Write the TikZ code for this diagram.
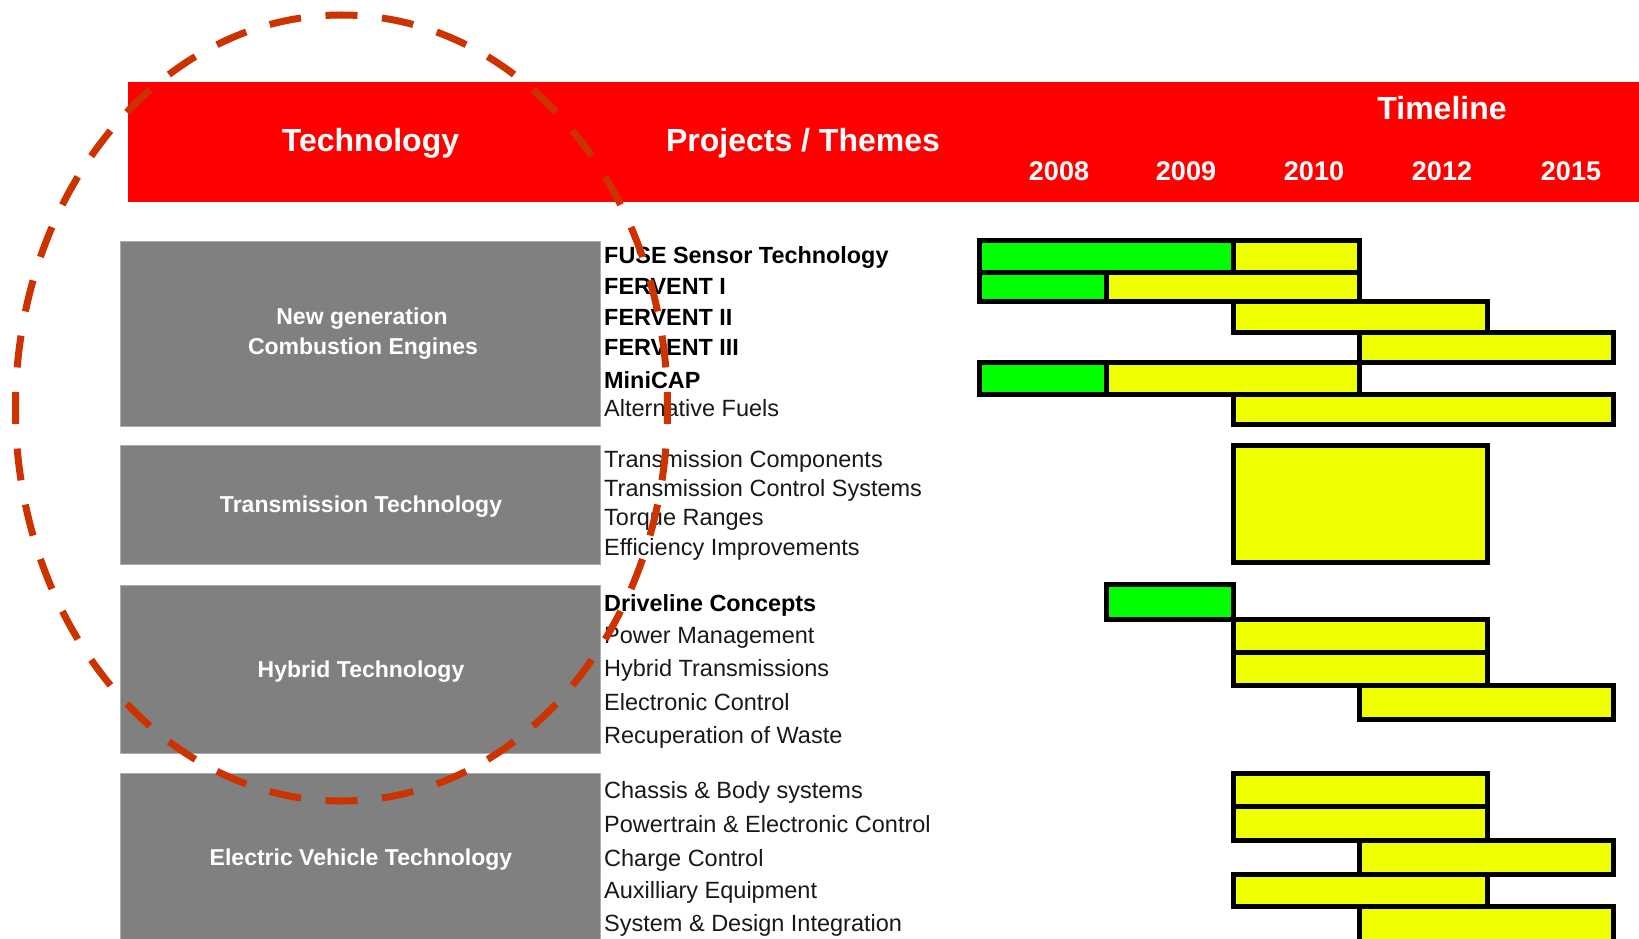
\documentclass[tikz,border=0pt]{standalone}
\usepackage{fontspec}
\setmainfont{Liberation Sans}
\definecolor{hdrred}{RGB}{255,0,0}
\definecolor{techgray}{RGB}{128,128,128}
\definecolor{bargreen}{RGB}{0,255,0}
\definecolor{baryellow}{RGB}{238,255,0}
\definecolor{ringred}{RGB}{204,51,0}
\tikzset{
  hdrtxt/.style={text=white, font=\fontsize{32}{38}\selectfont\bfseries, inner sep=0pt, anchor=base},
  yeartxt/.style={text=white, font=\fontsize{27}{32}\selectfont\bfseries, inner sep=0pt, anchor=base},
  techtxt/.style={text=white, font=\fontsize{23}{28}\selectfont\bfseries, inner sep=0pt, anchor=base},
  projb/.style={text=black, font=\fontsize{23.4}{28}\selectfont\bfseries, inner sep=0pt, anchor=base west},
  proj/.style={text=black!90, font=\fontsize{23.5}{28}\selectfont, inner sep=0pt, anchor=base west},
  techbox/.style={rectangle, fill=techgray, draw=gray!65, line width=1pt, inner sep=0pt, anchor=north west},
  hdrbox/.style={rectangle, fill=hdrred, draw=none, inner sep=0pt, anchor=north west},
  bar/.style={draw=black, line width=5pt, line join=miter},
  gbar/.style={bar, fill=bargreen},
  ybar/.style={bar, fill=baryellow},
  dashring/.style={draw=ringred, line width=7pt, dash pattern=on 32pt off 24.6pt, dash phase=16pt}
}
\begin{document}
\begin{tikzpicture}[x=1pt, y=-1pt]
\clip (0,0) rectangle (1639,939);
\fill[white] (0,0) rectangle (1639,939);

% header
\node[hdrbox, minimum width=1511pt, minimum height=120.5pt] (hdr) at (128,81.5) {};
\node[hdrtxt] (hTech) at (370.5,152) {Technology};
\node[hdrtxt] (hProj) at (803,152) {Projects / Themes};
\node[hdrtxt] (hTime) at (1442,120) {Timeline};
\node[yeartxt] (y2008) at (1059,180) {2008};
\node[yeartxt] (y2009) at (1186,180) {2009};
\node[yeartxt] (y2010) at (1314,180) {2010};
\node[yeartxt] (y2012) at (1442,180) {2012};
\node[yeartxt] (y2015) at (1571,180) {2015};

% technology boxes
\node[techbox, minimum width=480pt, minimum height=185pt] (boxNG) at (120,240.7) {};
\node[techbox, minimum width=480pt, minimum height=119pt] (boxTr) at (120,445) {};
\node[techbox, minimum width=480pt, minimum height=168pt] (boxHy) at (120,585) {};
\node[techbox, minimum width=480pt, minimum height=180pt] (boxEV) at (120,773) {};

\node[techtxt] (tNG1) at (362,324) {New generation};
\node[techtxt] (tNG2) at (363,354) {Combustion Engines};
\node[techtxt] (tTr) at (361,512) {Transmission Technology};
\node[techtxt] (tHy) at (361,677) {Hybrid Technology};
\node[techtxt] (tEV) at (361,865) {Electric Vehicle Technology};

% projects
\node[projb] (p1) at (604,263) {FUSE Sensor Technology};
\node[projb] (p2) at (604,294) {FERVENT I};
\node[projb] (p3) at (604,325) {FERVENT II};
\node[projb] (p4) at (604,355) {FERVENT III};
\node[projb] (p5) at (604,388) {MiniCAP};
\node[proj] (p6) at (604,416.5) {Alternative Fuels};
\node[proj] (p7) at (604,467) {Transmission Components};
\node[proj] (p8) at (604,496.5) {Transmission Control Systems};
\node[proj] (p9) at (604,525) {Torque Ranges};
\node[proj] (p10) at (604,555) {Efficiency Improvements};
\node[projb] (p11) at (604,611.5) {Driveline Concepts};
\node[proj] (p12) at (604,643) {Power Management};
\node[proj] (p13) at (604,676.5) {Hybrid Transmissions};
\node[proj] (p14) at (604,710) {Electronic Control};
\node[proj] (p15) at (604,743) {Recuperation of Waste};
\node[proj] (p16) at (604,798) {Chassis \& Body systems};
\node[proj] (p17) at (604,832.5) {Powertrain \& Electronic Control};
\node[proj] (p18) at (604,866) {Charge Control};
\node[proj] (p19) at (604,898) {Auxilliary Equipment};
\node[proj] (p20) at (604,931.5) {System \& Design Integration};

% timeline bars
\draw[gbar] (979.5,240.5) rectangle (1233,272);
\draw[ybar] (1233,240.5) rectangle (1359.5,272);
\draw[gbar] (979.5,272) rectangle (1106,301.5);
\draw[ybar] (1106,272) rectangle (1359.5,301.5);
\draw[ybar] (1233,301.5) rectangle (1487,332.5);
\draw[ybar] (1359.5,332.5) rectangle (1613,362.5);
\draw[gbar] (979.5,362.5) rectangle (1106,394.5);
\draw[ybar] (1106,362.5) rectangle (1359.5,394.5);
\draw[ybar] (1233,394.5) rectangle (1613,424.5);

\draw[ybar] (1233,445.5) rectangle (1487,562.5);

\draw[gbar] (1106,584.5) rectangle (1233,619.5);
\draw[ybar] (1233,619.5) rectangle (1487,652);
\draw[ybar] (1233,652) rectangle (1487,685);
\draw[ybar] (1359.5,685) rectangle (1613,719.5);

\draw[ybar] (1233,773.5) rectangle (1487,806);
\draw[ybar] (1233,806) rectangle (1487,840.5);
\draw[ybar] (1359.5,840.5) rectangle (1613,874.5);
\draw[ybar] (1233,874.5) rectangle (1487,906.5);
\draw[ybar] (1359.5,906.5) rectangle (1613,950);

% dashed ring
\draw[dashring] (341.5,408) ellipse [x radius=326, y radius=393];
\end{tikzpicture}
\end{document}
